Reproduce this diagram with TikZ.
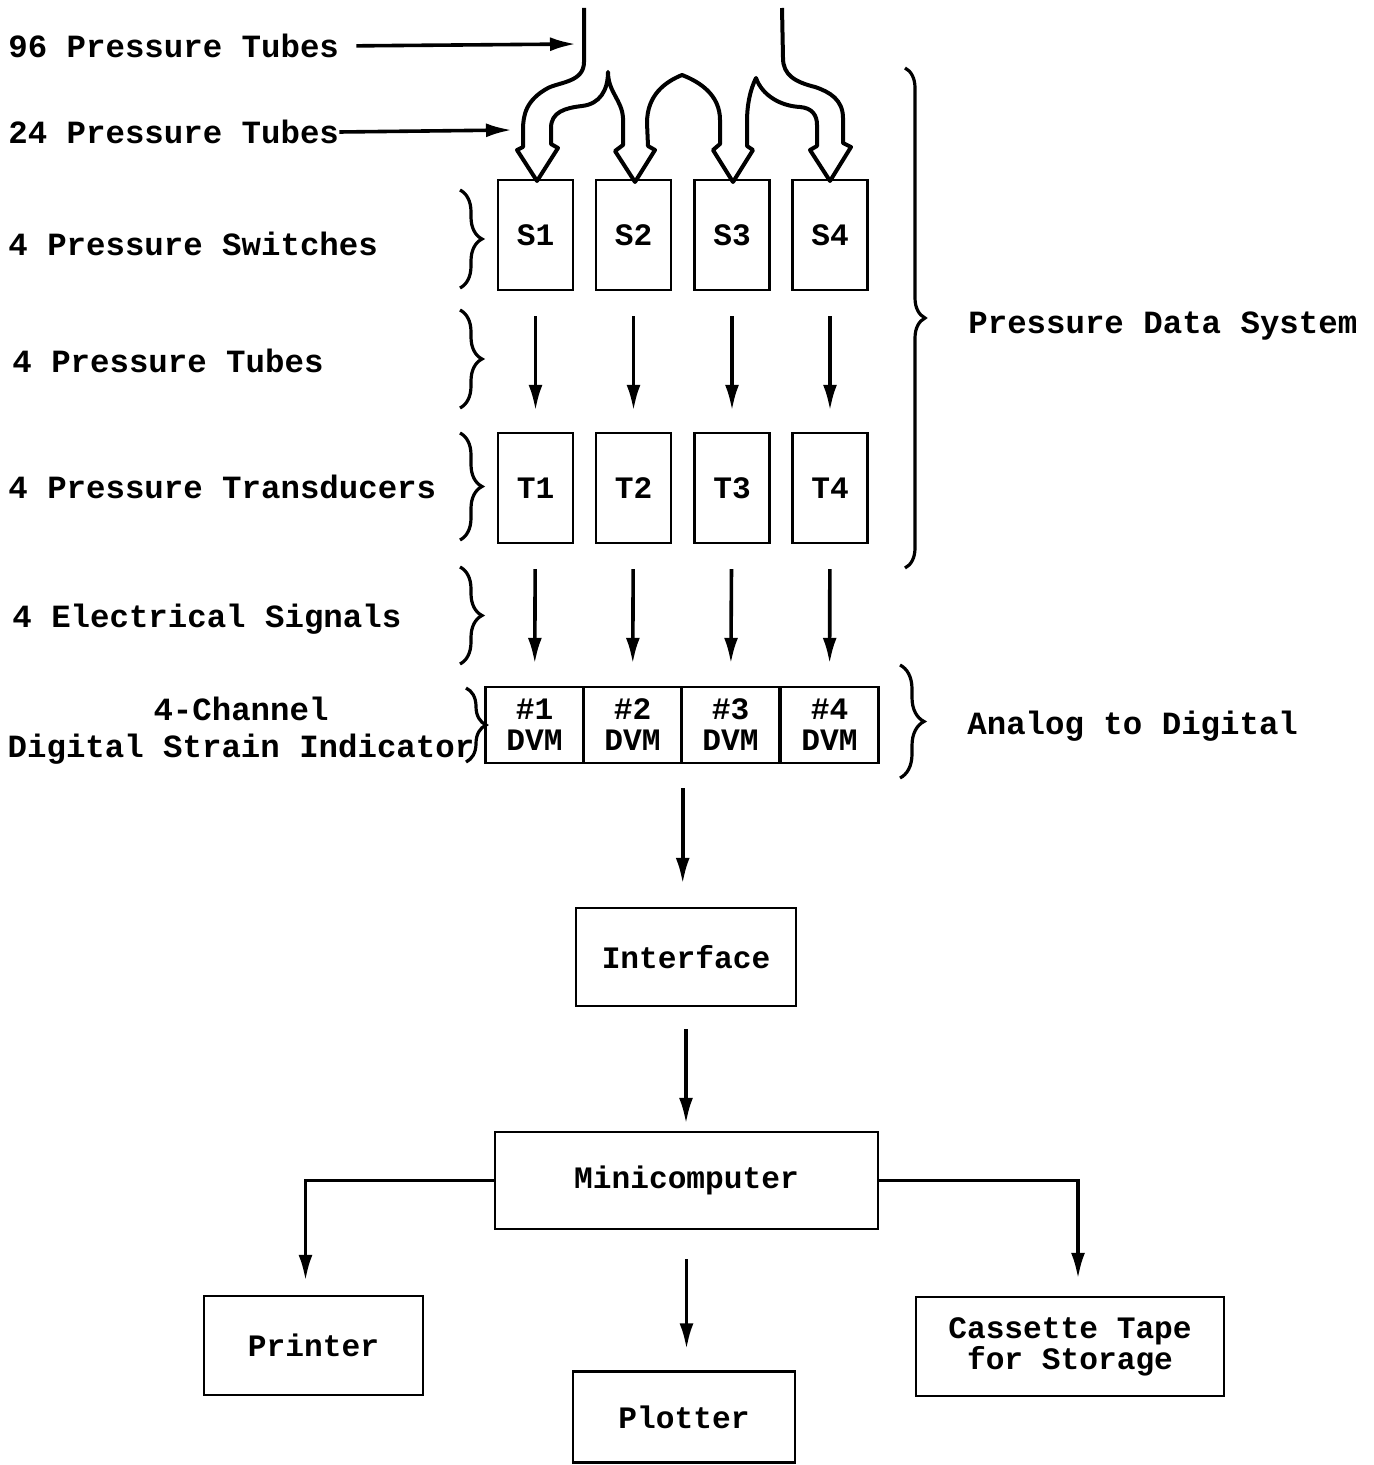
\documentclass[tikz,border=0pt]{standalone}
\usepackage{fontspec}
\setmainfont{Liberation Mono}
\usetikzlibrary{arrows.meta,decorations.pathreplacing}

\begin{document}
\begin{tikzpicture}[x=0.5pt,y=-0.5pt,
    font=\bfseries\fontsize{16.2}{16.5}\selectfont,
    lbl/.style={inner sep=0pt},
    box/.style={draw,line width=1.2pt,align=center,font=\bfseries\fontsize{15.6}{15.5}\selectfont},
    sbox/.style={box,minimum width=37.5pt,minimum height=55pt},
    dvm/.style={box,minimum width=49pt,minimum height=38pt,inner sep=0pt},
    arr/.style={-{Latex[length=13pt,width=7pt]},line width=1.8pt},
    brc/.style={decorate,decoration={brace,amplitude=10pt},line width=1.6pt}]
  \useasboundingbox (0,0) rectangle (1373,1465);

  % labels on the left
  \node[lbl,anchor=west] (t96) at (8,46) {96 Pressure Tubes};
  \node[lbl,anchor=west] (t24) at (8,132) {24 Pressure Tubes};
  \node[lbl,anchor=west] (lsw) at (8,244) {4 Pressure Switches};
  \node[lbl,anchor=west] (ltb) at (12,361) {4 Pressure Tubes};
  \node[lbl,anchor=west] (ltr) at (8,487) {4 Pressure Transducers};
  \node[lbl,anchor=west] (lel) at (12,619) {4 Electrical Signals};
  \node[lbl,align=center] (ldsi) at (241,731) {4-Channel\\[2pt]Digital Strain Indicator};
  \node[lbl,anchor=west] (lpds) at (968,326) {Pressure Data System};
  \node[lbl,anchor=west] (lad) at (967,726) {Analog to Digital};

  % switches, transducers, DVMs
  \node[sbox] (s1) at (535.5,235) {S1};
  \node[sbox] (s2) at (633.5,235) {S2};
  \node[sbox] (s3) at (732,235) {S3};
  \node[sbox] (s4) at (830,235) {S4};
  \node[sbox] (t1) at (535.5,488) {T1};
  \node[sbox] (t2) at (633.5,488) {T2};
  \node[sbox] (t3) at (732,488) {T3};
  \node[sbox] (t4) at (830,488) {T4};
  \node[dvm] (d1) at (534.5,725) {\#1\\DVM};
  \node[dvm] (d2) at (632.5,725) {\#2\\DVM};
  \node[dvm] (d3) at (730.5,725) {\#3\\DVM};
  \node[dvm] (d4) at (829.5,725) {\#4\\DVM};

  \node[box,minimum width=110pt,minimum height=49pt] (iface) at (686,957) {Interface};
  \node[box,minimum width=191.5pt,minimum height=48.5pt] (mini) at (686.5,1180.5) {Minicomputer};
  \node[box,minimum width=109.5pt,minimum height=49.5pt] (printer) at (313.5,1345.5) {Printer};
  \node[box,minimum width=111pt,minimum height=45.5pt] (plotter) at (684,1417) {Plotter};
  \node[box,minimum width=154pt,minimum height=49.5pt] (tape) at (1070,1346.5) {Cassette Tape\\for Storage};

  % tubes coming in
  \coordinate (p96) at (576,44);
  \coordinate (p24) at (512,130);
  \draw[arr,shorten <=8.5pt] (t96.east) -- (p96);
  \draw[arr] (t24.east) -- (p24);
  \draw[line width=2pt,line join=round] (584,8) -- (584,62)
    .. controls (584,82) and (560,82) .. (548,88)
    .. controls (526,100) and (523,115) .. (523,130) -- (523,147) -- (517,150)
    -- (537,181) -- (558,148) -- (551,144) -- (551,128)
    .. controls (551,112) and (565,108) .. (582,106)
    .. controls (600,104) and (608,90) .. (608,72)
    .. controls (608,92) and (622,100) .. (623,118) -- (623,145) -- (615,151)
    -- (635,182) -- (655,150) -- (648,146) -- (647,123)
    .. controls (647,95) and (665,82) .. (682,75)
    .. controls (700,82) and (720,95) .. (720,120) -- (720,144) -- (713,150)
    -- (733,182) -- (753,150) -- (747,146) -- (747,122)
    .. controls (747,105) and (750,90) .. (756,78)
    .. controls (762,95) and (780,106) .. (800,107)
    .. controls (812,108) and (817,115) .. (817,125) -- (817,146) -- (810,150)
    -- (830,181) -- (851,147) -- (843,143) -- (843,118)
    .. controls (843,100) and (830,92) .. (815,87)
    .. controls (795,82) and (783,75) .. (783,58) -- (782,8);

  % braces
  \draw[brc,decoration={amplitude=11pt}] (460,190) -- (460,288);
  \draw[brc,decoration={amplitude=11pt}] (460,310) -- (460,408);
  \draw[brc,decoration={amplitude=11pt}] (460,433) -- (460,540);
  \draw[brc,decoration={amplitude=11pt}] (460,567) -- (460,664);
  \draw[brc] (466,688) -- (466,762);
  \draw[brc] (905,68) -- (905,568);
  \draw[brc,decoration={amplitude=12pt}] (900,665) -- (900,778);

  % signal flow
  \draw[arr,shorten <=12.5pt,shorten >=10.5pt] (s1) -- (t1);
  \draw[arr,shorten <=12.5pt,shorten >=10.5pt] (s2) -- (t2);
  \draw[arr,shorten <=12.5pt,shorten >=10.5pt] (s3) -- (t3);
  \draw[arr,shorten <=12.5pt,shorten >=10.5pt] (s4) -- (t4);
  \draw[arr,shorten <=12.5pt,shorten >=11pt] (t1) -- (d1);
  \draw[arr,shorten <=12.5pt,shorten >=11pt] (t2) -- (d2);
  \draw[arr,shorten <=12.5pt,shorten >=11pt] (t3) -- (d3);
  \draw[arr,shorten <=12.5pt,shorten >=11pt] (t4) -- (d4);
  \draw[arr,shorten <=12pt,shorten >=11.5pt] (d2.south east) -- (d2.south east |- iface.north);
  \draw[arr,shorten <=11pt,shorten >=3.5pt] (iface) -- (iface |- mini.north);
  \draw[arr,shorten <=14.5pt,shorten >=10.5pt] (mini) -- (mini |- plotter.north);
  \draw[arr,shorten >=7pt] (mini.west) -| ([xshift=-4pt]printer.north);
  \draw[arr,shorten >=8.5pt] (mini.east) -| ([xshift=4pt]tape.north);
\end{tikzpicture}
\end{document}
